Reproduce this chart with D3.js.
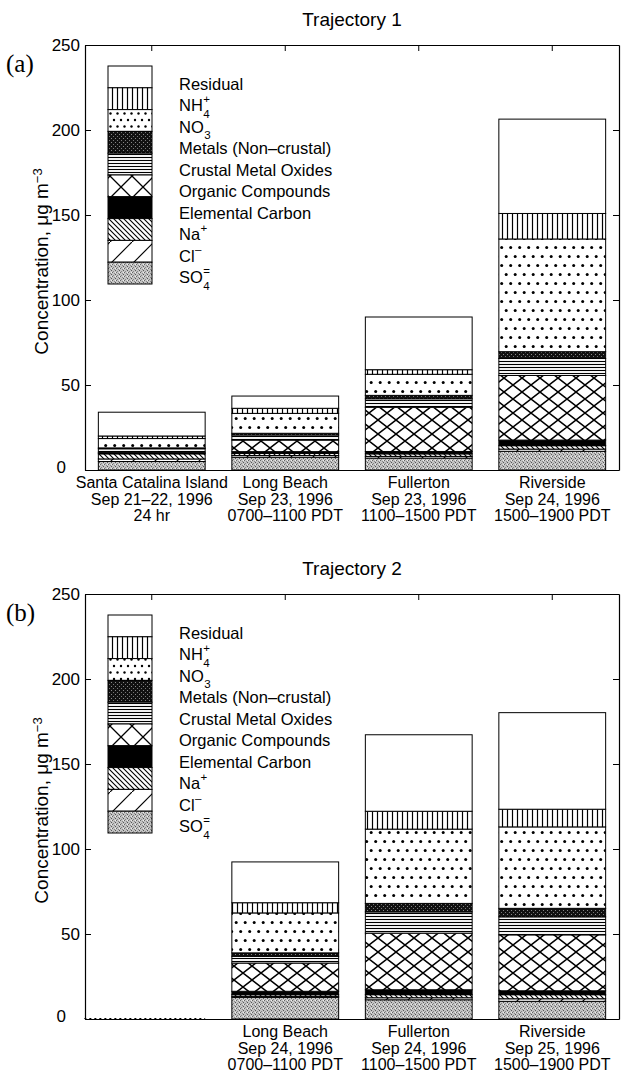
<!DOCTYPE html>
<html>
<head>
<meta charset="utf-8">
<script src="https://cdn.jsdelivr.net/npm/d3@7"></script>
<style>
  body { margin: 0; background: #fff; }
  text { font-family: "Liberation Sans", Arial, Helvetica, sans-serif; fill: #000; }
</style>
</head>
<body>
<div id="wrapper"></div>
<script>
// stacking order, bottom to top
const components = ["SO4", "Cl", "Na", "EC", "Organic", "Crustal", "Metals", "NO3", "NH4", "Residual"];

// Trajectory 1
const traj1Sites = ["Santa Catalina Island", "Long Beach", "Fullerton", "Riverside"];
const traj1Dates = ["Sep 21\u201322, 1996", "Sep 23, 1996", "Sep 23, 1996", "Sep 24, 1996"];
const traj1Times = ["24 hr", "0700\u20131100 PDT", "1100\u20131500 PDT", "1500\u20131900 PDT"];
const traj1SO4 = [5, 7.5, 7, 11];
const traj1Cl = [1.5, 1, 1, 1.3];
const traj1Na = [3, 1.3, 1.5, 2];
const traj1EC = [0.5, 1, 1.4, 3.3];
const traj1Organic = [0.5, 6.8, 26, 38];
const traj1Crustal = [2, 3, 5, 10];
const traj1Metals = [0.5, 1, 2, 4];
const traj1NO3 = [5.5, 11.7, 12.4, 66.3];
const traj1NH4 = [1.5, 3, 2.7, 15];
const traj1Residual = [14, 7.2, 31, 55.5];

// Trajectory 2 (first slot is empty)
const traj2Sites = ["", "Long Beach", "Fullerton", "Riverside"];
const traj2Dates = ["", "Sep 24, 1996", "Sep 24, 1996", "Sep 25, 1996"];
const traj2Times = ["", "0700\u20131100 PDT", "1100\u20131500 PDT", "1500\u20131900 PDT"];
const traj2SO4 = [0, 12.7, 11.3, 10.4];
const traj2Cl = [0, 0.6, 1.2, 1.5];
const traj2Na = [0, 1, 1.8, 2.4];
const traj2EC = [0, 2, 2.9, 2.3];
const traj2Organic = [0, 16.6, 33.3, 32.9];
const traj2Crustal = [0, 4, 12.5, 10.6];
const traj2Metals = [0, 2, 5, 5];
const traj2NO3 = [0, 23.5, 43.7, 47.9];
const traj2NH4 = [0, 6, 10.5, 10.4];
const traj2Residual = [0, 24, 45, 56.8];

const yTicks = [0, 50, 100, 150, 200, 250];

// legend, top to bottom
const legendKeys = ["Residual", "NH4", "NO3", "Metals", "Crustal", "Organic", "EC", "Na", "Cl", "SO4"];
const legendBase = ["Residual", "NH", "NO", "Metals (Non\u2013crustal)", "Crustal Metal Oxides", "Organic Compounds", "Elemental Carbon", "Na", "Cl", "SO"];
const legendSup = ["", "+", "", "", "", "", "", "+", "\u2013", "="];
const legendSub = ["", "4", "3", "", "", "", "", "", "", "4"];

const width = 621, height = 1074;
const left = 85, right = 619;

const svg = d3.select("#wrapper").append("svg")
  .attr("width", width)
  .attr("height", height);

// ---- hatch patterns ----
const defs = svg.append("defs");
function pattern(id, w, h, draw) {
  const p = defs.append("pattern").attr("id", id)
    .attr("patternUnits", "userSpaceOnUse")
    .attr("width", w).attr("height", h);
  draw(p);
}
pattern("p-nh4", 5, 5, p => {
  p.append("rect").attr("width", 5).attr("height", 5).attr("fill", "#fff");
  p.append("line").attr("x1", 2.5).attr("x2", 2.5).attr("y1", 0).attr("y2", 5).attr("stroke", "#000").attr("stroke-width", 1.2);
});
pattern("p-no3", 9, 18, p => {
  p.append("rect").attr("width", 9).attr("height", 18).attr("fill", "#fff");
  p.append("circle").attr("cx", 2.2).attr("cy", 4.5).attr("r", 1.5).attr("fill", "#000");
  p.append("circle").attr("cx", 6.7).attr("cy", 13.5).attr("r", 1.5).attr("fill", "#000");
});
pattern("p-no3-leg", 7, 13, p => {
  p.append("rect").attr("width", 7).attr("height", 13).attr("fill", "#fff");
  p.append("circle").attr("cx", 2).attr("cy", 3).attr("r", 1.2).attr("fill", "#000");
  p.append("circle").attr("cx", 5.5).attr("cy", 9.5).attr("r", 1.2).attr("fill", "#000");
});
pattern("p-metals", 4, 4, p => {
  p.append("rect").attr("width", 4).attr("height", 4).attr("fill", "#111");
  p.append("rect").attr("x", 1).attr("y", 0).attr("width", 1).attr("height", 1).attr("fill", "#777");
  p.append("rect").attr("x", 3).attr("y", 2).attr("width", 1).attr("height", 1).attr("fill", "#888");
});
pattern("p-crustal", 4, 3, p => {
  p.append("rect").attr("width", 4).attr("height", 3).attr("fill", "#fff");
  p.append("line").attr("x1", 0).attr("x2", 4).attr("y1", 1.5).attr("y2", 1.5).attr("stroke", "#000").attr("stroke-width", 1.1);
});
pattern("p-org", 18, 14, p => {
  p.append("rect").attr("width", 18).attr("height", 14).attr("fill", "#fff");
  p.append("path").attr("d", "M0,0L18,14M18,0L0,14").attr("stroke", "#000").attr("stroke-width", 1.5);
});
pattern("p-org-leg", 22, 22, p => {
  p.append("rect").attr("width", 22).attr("height", 22).attr("fill", "#fff");
  p.append("path").attr("d", "M0,0L22,22M22,0L0,22").attr("stroke", "#000").attr("stroke-width", 1.3);
});
pattern("p-na", 5, 5, p => {
  p.append("rect").attr("width", 5).attr("height", 5).attr("fill", "#fff");
  p.append("path").attr("d", "M0,0L5,5M-1,4L1,6M4,-1L6,1").attr("stroke", "#000").attr("stroke-width", 1.1);
});
pattern("p-cl", 22, 22, p => {
  p.append("rect").attr("width", 22).attr("height", 22).attr("fill", "#fff");
  p.append("path").attr("d", "M0,22L22,0").attr("stroke", "#000").attr("stroke-width", 1.2);
});
pattern("p-so4", 4, 4, p => {
  p.append("rect").attr("width", 4).attr("height", 4).attr("fill", "#c4c4c4");
  p.append("rect").attr("x", 0).attr("y", 0).attr("width", 1).attr("height", 1).attr("fill", "#666");
  p.append("rect").attr("x", 2).attr("y", 1).attr("width", 1).attr("height", 1).attr("fill", "#888");
  p.append("rect").attr("x", 1).attr("y", 3).attr("width", 1).attr("height", 1).attr("fill", "#888");
  p.append("rect").attr("x", 3).attr("y", 2).attr("width", 1).attr("height", 1).attr("fill", "#555");
  p.append("rect").attr("x", 3).attr("y", 0).attr("width", 1).attr("height", 1).attr("fill", "#eee");
});

const barFill = {
  Residual: "#fff", NH4: "url(#p-nh4)", NO3: "url(#p-no3)", Metals: "url(#p-metals)",
  Crustal: "url(#p-crustal)", Organic: "url(#p-org)", EC: "#000", Na: "url(#p-na)",
  Cl: "url(#p-cl)", SO4: "url(#p-so4)"
};
const legendFill = Object.assign({}, barFill, { NO3: "url(#p-no3-leg)", Organic: "url(#p-org-leg)" });

function drawPanel(p) {
  const y = d3.scaleLinear().domain([0, 250]).range([p.bottom, p.top]);
  const x = d3.scaleBand().domain(d3.range(p.sites.length)).range([left, right])
    .paddingInner(0.2).paddingOuter(0.1);

  const table = p.sites.map((s, i) => {
    const row = { i };
    components.forEach(c => row[c] = p.values[c][i]);
    return row;
  });
  const series = d3.stack().keys(components)(table);

  const g = svg.append("g");

  // bars
  g.append("g").selectAll("g")
    .data(series)
    .join("g")
    .attr("fill", d => barFill[d.key])
    .selectAll("rect")
    .data(d => d.filter(v => v[1] > v[0]))
    .join("rect")
    .attr("x", d => x(d.data.i))
    .attr("y", d => y(d[1]))
    .attr("width", x.bandwidth())
    .attr("height", d => y(d[0]) - y(d[1]))
    .attr("stroke", "#000")
    .attr("stroke-width", 1);

  // empty slots: zero-height bar drawn dotted
  g.append("g").selectAll("line")
    .data(table.filter(r => components.every(c => r[c] === 0)))
    .join("line")
    .attr("x1", d => x(d.i) - 14)
    .attr("x2", d => x(d.i) + x.bandwidth())
    .attr("y1", y(0) - 0.5).attr("y2", y(0) - 0.5)
    .attr("stroke", "#000").attr("stroke-width", 1.2)
    .attr("stroke-dasharray", "2,3");

  // axes (MATLAB box, ticks inside)
  const axL = g.append("g").attr("transform", `translate(${left},0)`)
    .call(d3.axisLeft(y).tickValues(yTicks).tickSize(-6).tickSizeOuter(0).tickPadding(5));
  axL.selectAll("text").style("font-size", "17px").style("font-family", "Liberation Sans, Arial, sans-serif");
  // the zero label sits a bit further left, clear of the category text
  axL.selectAll(".tick text").filter(d => d === 0).attr("x", -19).attr("dy", "0.15em");
  g.append("g").attr("transform", `translate(${right},0)`)
    .call(d3.axisRight(y).tickValues(yTicks).tickSize(-6).tickSizeOuter(0).tickFormat(""));
  g.append("g").attr("transform", `translate(0,${p.top})`)
    .call(d3.axisTop(x).tickSize(-6).tickSizeOuter(0).tickFormat(""))
    .selectAll(".tick").attr("transform", d => `translate(${x(d) + x.bandwidth() / 2},0)`);
  g.append("g").attr("transform", `translate(0,${p.bottom})`)
    .call(d3.axisBottom(x).tickSize(0).tickSizeOuter(0).tickFormat(""));
  g.selectAll(".domain").attr("stroke-width", 1.2);

  // category labels, three lines
  const lab = g.append("g").selectAll("text")
    .data(table)
    .join("text")
    .attr("text-anchor", "middle")
    .style("font-size", "16px")
    .attr("transform", d => `translate(${x(d.i) + x.bandwidth() / 2},${p.bottom + 18})`);
  [p.sites, p.dates, p.times].forEach((arr, k) => {
    lab.append("tspan").attr("x", 0).attr("y", k * 16.5).text(d => arr[d.i]);
  });

  // title + panel letter
  g.append("text").attr("x", (left + right) / 2).attr("y", p.top - 19)
    .attr("text-anchor", "middle").style("font-size", "19px").text(p.title);
  g.append("text").attr("x", 6).attr("y", p.top + 27)
    .style("font-family", "Liberation Serif, Times New Roman, serif").style("font-size", "25px")
    .text(p.letter);

  // y label
  const yl = g.append("text")
    .attr("transform", `translate(48,${(p.top + p.bottom) / 2 + 4}) rotate(-90)`)
    .attr("text-anchor", "middle")
    .style("font-size", "19px");
  yl.append("tspan").text("Concentration, \u03bcg m");
  yl.append("tspan").attr("dy", "-0.45em").style("font-size", "13px").text("\u22123");

  // legend stacked box
  const boxTop = p.top + 21, boxH = 21.8, boxX = 108, boxW = 44;
  const leg = g.append("g");
  leg.selectAll("rect")
    .data(legendKeys)
    .join("rect")
    .attr("x", boxX)
    .attr("y", (d, i) => boxTop + i * boxH)
    .attr("width", boxW)
    .attr("height", boxH)
    .attr("fill", d => legendFill[d])
    .attr("stroke", "#000")
    .attr("stroke-width", 1);

  const labY = p.top + 39, labStep = 21.5, labX = 179;
  legendBase.forEach((t, i) => {
    const ty = labY + i * labStep;
    const txt = leg.append("text").attr("x", labX).attr("y", ty).attr("dy", "0.35em")
      .style("font-size", "16.5px").text(t);
    const w = txt.node().getComputedTextLength();
    if (legendSup[i]) {
      leg.append("text").attr("x", labX + w + 0.5).attr("y", ty - 3)
        .style("font-size", "11.5px").text(legendSup[i]);
    }
    if (legendSub[i]) {
      leg.append("text").attr("x", labX + w + 0.5).attr("y", ty + 12)
        .style("font-size", "11.5px").text(legendSub[i]);
    }
  });
}

drawPanel({
  top: 45, bottom: 470, title: "Trajectory 1", letter: "(a)",
  sites: traj1Sites, dates: traj1Dates, times: traj1Times,
  values: { SO4: traj1SO4, Cl: traj1Cl, Na: traj1Na, EC: traj1EC, Organic: traj1Organic,
            Crustal: traj1Crustal, Metals: traj1Metals, NO3: traj1NO3, NH4: traj1NH4, Residual: traj1Residual }
});

drawPanel({
  top: 594, bottom: 1019, title: "Trajectory 2", letter: "(b)",
  sites: traj2Sites, dates: traj2Dates, times: traj2Times,
  values: { SO4: traj2SO4, Cl: traj2Cl, Na: traj2Na, EC: traj2EC, Organic: traj2Organic,
            Crustal: traj2Crustal, Metals: traj2Metals, NO3: traj2NO3, NH4: traj2NH4, Residual: traj2Residual }
});
</script>
</body>
</html>
